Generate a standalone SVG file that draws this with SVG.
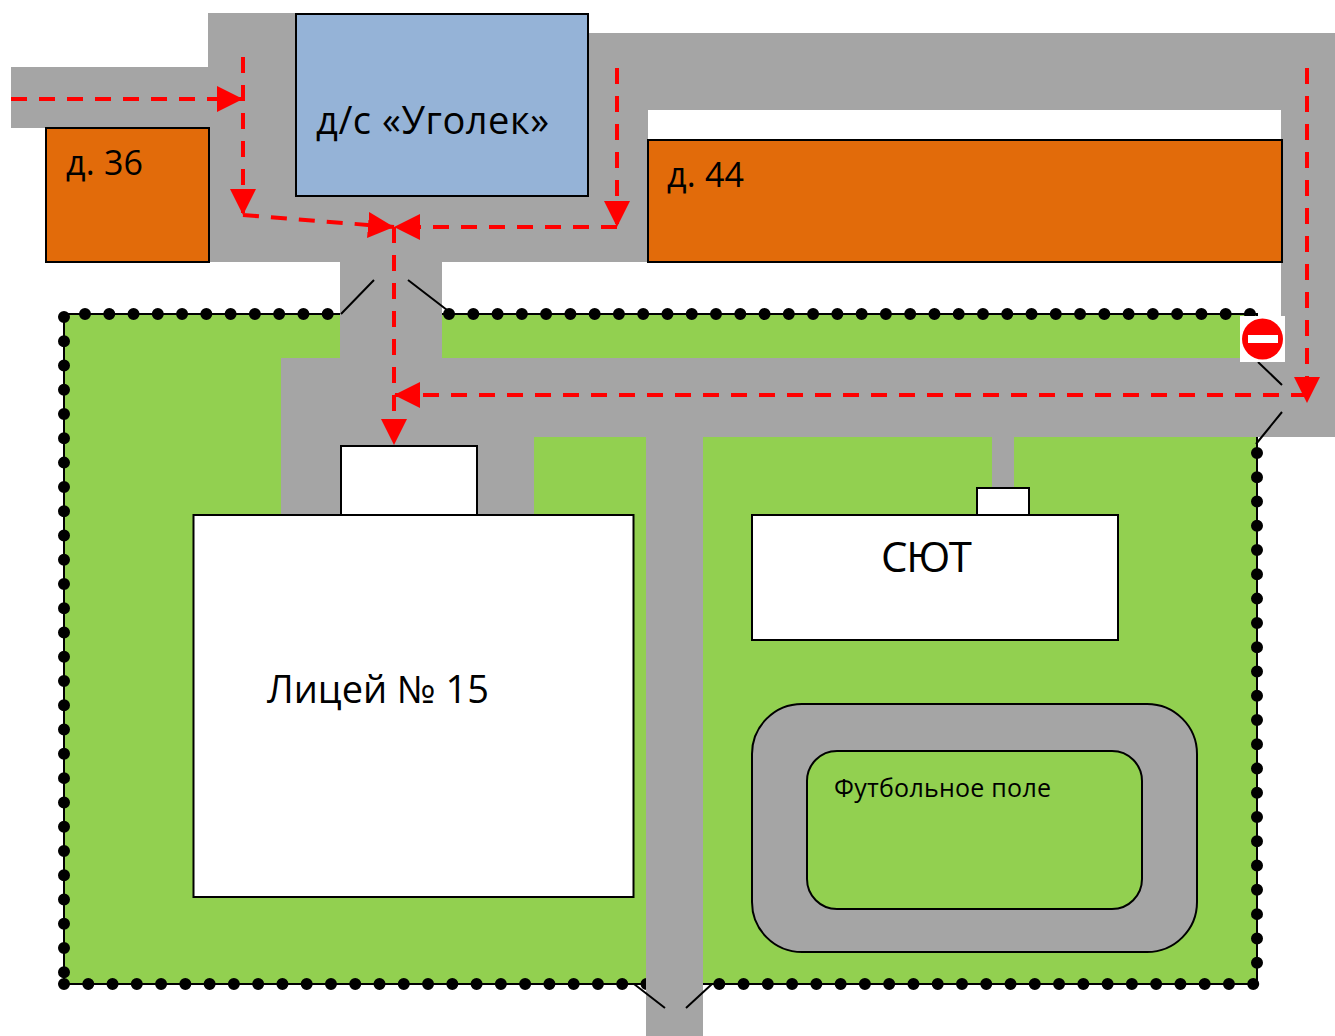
<svg xmlns="http://www.w3.org/2000/svg" width="1335" height="1036" viewBox="0 0 1335 1036">
<style>
.road{fill:#A5A5A5;fill-rule:evenodd}
.b{stroke:#000;stroke-width:2}
.t{font-family:"Open Sans","Noto Sans",sans-serif;fill:#000}
.fl{fill:none;stroke:#000;stroke-width:2}
.fd{fill:none;stroke:#000;stroke-width:12;stroke-linecap:round;stroke-dasharray:0 24.27}
.r{fill:none;stroke:#F00;stroke-width:4;stroke-dasharray:16 12}
.a{marker-end:url(#ah)}
</style>
<defs>
<marker id="ah" markerUnits="userSpaceOnUse" markerWidth="27" markerHeight="27" refX="26" refY="13" orient="auto"><path d="M0 0L26 13L0 26Z" fill="#F00"/></marker>
</defs>
<rect width="1335" height="1036" fill="#fff"/>
<g id="territory">
<rect x="64" y="314" width="1193" height="670" fill="#92D050"/>
<rect x="64" y="314" width="1193" height="670" class="fl"/>
<path d="M85 314H1260" class="fd"/>
<path d="M64 317V990" class="fd"/>
<path d="M64 984H1260" class="fd"/>
<path d="M1257 453V970" class="fd"/>
</g>
<g id="roads">
<path class="road" d="M11 67H208V13H296V33H1335V437H1014V488H992V437H703V1036H646V437H534V515H281V358H340V262H208V128H11ZM648 110H1281V358H442V262H648Z"/>
</g>
<g id="gates">
<path class="fl" d="M341 314L374 280M408 280L447 310M1258 362L1282 385M1282 412L1256 444M634 984L665 1008M686 1008L712 984"/>
</g>
<g id="no-entry">
<rect x="1240" y="316" width="45" height="46" fill="#fff"/>
<circle cx="1262.500" cy="339" r="20.500" fill="#F00"/>
<rect x="1248" y="335" width="30" height="8" fill="#fff"/>
</g>
<g id="building-36"><rect x="46" y="128" width="163" height="134" fill="#E26B0A" class="b"/><text x="66" y="175" font-size="34" textLength="77" class="t">д. 36</text></g>
<g id="kindergarten"><rect x="296" y="14" width="292" height="182" fill="#95B3D7" class="b"/><text x="316" y="134" font-size="38" textLength="233" class="t">д/с «Уголек»</text></g>
<g id="building-44"><rect x="648" y="140" width="634" height="122" fill="#E26B0A" class="b"/><text x="667" y="187" font-size="34" textLength="77" class="t">д. 44</text></g>
<g id="lyceum-entrance"><rect x="341" y="446" width="136" height="70" fill="#fff" class="b"/></g>
<g id="lyceum"><rect x="193.500" y="515" width="440" height="382" fill="#fff" class="b"/><text x="267" y="703" font-size="38" textLength="222" class="t">Лицей № 15</text></g>
<g id="syut-entrance"><rect x="977" y="488" width="52" height="28" fill="#fff" class="b"/></g>
<g id="syut"><rect x="752" y="515" width="366" height="125" fill="#fff" class="b"/><text x="881" y="572" font-size="42" textLength="91" class="t">СЮТ</text></g>
<g id="stadium">
<rect x="752" y="704" width="445" height="248" rx="50" fill="#A5A5A5" class="b"/>
<rect x="807" y="751" width="335" height="158" rx="30" fill="#92D050" class="b"/>
<text x="834" y="797" font-size="25" textLength="217" class="t">Футбольное поле</text>
</g>
<g id="connectors">
<path class="r a" d="M11 99H243"/>
<path class="r a" d="M243 57V215"/>
<path class="r a" d="M243 215L394 227"/>
<path class="r a" d="M617 68V227"/>
<path class="r a" d="M617 227H394"/>
<path class="r a" d="M394 227V445"/>
<path class="r a" d="M1307 68V403"/>
<path class="r a" d="M1307 395H394"/>
</g>
</svg>
